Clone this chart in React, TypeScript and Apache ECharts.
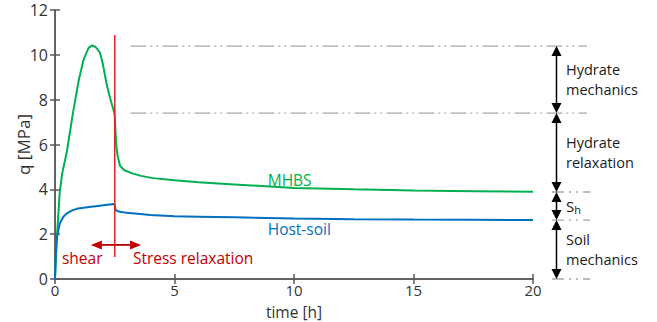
import React, { useEffect, useRef } from "react";
import * as echarts from "echarts";

// ---- data ----
const mhbsTime = [0, 0.04, 0.1, 0.2, 0.3, 0.5, 0.75, 0.85, 1.0, 1.2, 1.4, 1.55, 1.7, 1.88, 2.0, 2.16, 2.3, 2.47, 2.5, 2.53, 2.56, 2.62, 2.72, 2.9, 3.27, 3.6, 4.1, 5.0, 6.0, 7.5, 10, 12.5, 15, 17.5, 20];
const mhbsQ = [0, 1.1, 2.2, 3.9, 4.7, 5.7, 7.4, 8.0, 8.9, 9.8, 10.3, 10.42, 10.35, 10.1, 9.6, 8.7, 8.1, 7.45, 7.3, 6.6, 6.0, 5.5, 5.05, 4.85, 4.7, 4.6, 4.5, 4.4, 4.32, 4.22, 4.06, 4.0, 3.95, 3.92, 3.89];

const soilTime = [0, 0.04, 0.07, 0.15, 0.21, 0.35, 0.5, 0.7, 0.9, 1.2, 1.5, 1.8, 2.1, 2.47, 2.5, 2.53, 2.6, 2.72, 3.0, 3.56, 4.0, 5.0, 6.0, 7.5, 10, 12.5, 15, 17.5, 20];
const soilQ = [0, 1.2, 1.75, 2.25, 2.5, 2.78, 2.93, 3.05, 3.13, 3.18, 3.22, 3.26, 3.3, 3.35, 3.3, 3.1, 3.03, 3.0, 2.95, 2.9, 2.86, 2.8, 2.78, 2.75, 2.7, 2.67, 2.65, 2.64, 2.63];

const relaxLineT = [2.5, 2.5];
const relaxLineQ = [0.98, 10.88];

const xTicks = { min: 0, max: 20, interval: 5 };
const yTicks = { min: 0, max: 12, interval: 2 };
const xAxisName = "time [h]";
const yAxisName = "q [MPa]";

// reference levels (q, MPa)
const peakQ = 10.39;
const relaxQ = 7.4;
const mhbsEndQ = 3.88;
const soilEndQ = 2.63;
const zeroQ = 0;
const refLineStartT = 3.15;

// annotation anchors (data coords)
const shearArrowT = [1.5, 3.6];
const shearArrowQ = 1.52;
const phaseTextQ = 0.94;
const shearTextT = 0.29;
const relaxTextT = 3.26;
const mhbsLabel = { t: 8.9, q: 4.42, text: "MHBS" };
const soilLabel = { t: 8.9, q: 2.23, text: "Host-soil" };

const FONT = "'Open Sans', sans-serif";
const GREEN = "#00b050";
const BLUE = "#0070c0";
const DARKRED = "#c00000";
const AXIS = "#595959";
const GRAY = "#a6a6a6";

export default function App() {
  const ref = useRef<HTMLDivElement>(null);
  useEffect(() => {
    document.body.style.margin = "0";
    const chart = echarts.init(ref.current!, null, { renderer: "svg" });
    const zip = (a: number[], b: number[]) => a.map((v, i) => [v, b[i]]);
    const axisLine = { show: true, lineStyle: { color: AXIS, width: 1.5 } };
    const tick = { inside: true, length: 5, lineStyle: { color: AXIS, width: 1.5 } };
    chart.setOption({
      animation: false,
      grid: { left: 55, right: 124, top: 10, bottom: 43, outerBoundsMode: "none", containLabel: false },
      xAxis: [
        {
          type: "value", ...xTicks, position: "bottom",
          axisLine, splitLine: { show: false }, axisTick: tick,
          axisLabel: { fontFamily: FONT, fontSize: 15, lineHeight: 15, color: "#333", margin: 3 },
        },
        {
          type: "value", ...xTicks, position: "top",
          axisLine, splitLine: { show: false }, axisTick: tick,
          axisLabel: { show: false },
        },
      ],
      yAxis: [
        {
          type: "value", ...yTicks, position: "left",
          axisLine, splitLine: { show: false }, axisTick: tick,
          axisLabel: { fontFamily: FONT, fontSize: 16, lineHeight: 16, color: "#333", margin: 7 },
        },
        {
          type: "value", ...yTicks, position: "right",
          axisLine, splitLine: { show: false }, axisTick: tick,
          axisLabel: { show: false },
        },
      ],
      series: [
        {
          name: "MHBS", type: "line", data: zip(mhbsTime, mhbsQ), showSymbol: false,
          lineStyle: { color: GREEN, width: 2 }, itemStyle: { color: GREEN }, z: 3,
        },
        {
          name: "Host-soil", type: "line", data: zip(soilTime, soilQ), showSymbol: false,
          lineStyle: { color: BLUE, width: 2 }, itemStyle: { color: BLUE }, z: 3,
        },
        {
          name: "relaxation start", type: "line", data: zip(relaxLineT, relaxLineQ), showSymbol: false,
          lineStyle: { color: "#e32222", width: 1.5 }, z: 4,
        },
      ],
    });

    const px = (t: number, q: number) => chart.convertToPixel({ gridIndex: 0 }, [t, q]) as number[];
    const left = px(0, 0)[0];
    const right = px(20, 0)[0];
    const bottom = px(0, 0)[1];
    const top = px(0, 12)[1];
    const y = (q: number) => px(0, q)[1];
    const g: any[] = [];
    const dash = [16, 4, 2, 4, 2, 4];

    // axis names
    g.push({ type: "text", z: 5, style: {
      text: xAxisName, x: (left + right) / 2, y: bottom + 32.5, align: "center", verticalAlign: "middle",
      fontFamily: FONT, fontSize: 15.5, lineHeight: 16, fill: "#333",
    } });
    g.push({ type: "text", z: 5, x: left - 32, y: (top + bottom) / 2, rotation: Math.PI / 2, style: {
      text: yAxisName, x: 0, y: 0, align: "center", verticalAlign: "middle",
      fontFamily: FONT, fontSize: 17, lineHeight: 17, fill: "#333",
    } });

    // long dash-dot reference lines
    [peakQ, relaxQ].forEach((q) => {
      g.push({ type: "line", shape: { x1: px(refLineStartT, q)[0], y1: y(q), x2: right + 54, y2: y(q) },
        style: { stroke: GRAY, lineWidth: 1.3, lineDash: dash }, z: 1 });
    });
    // short right-side reference lines
    [mhbsEndQ, soilEndQ, zeroQ].forEach((q) => {
      g.push({ type: "line", shape: { x1: right + 19, y1: y(q), x2: right + 57, y2: y(q) },
        style: { stroke: GRAY, lineWidth: 1.3, lineDash: [12, 5, 2, 5, 2, 5] }, z: 1 });
    });

    // black double arrows
    const ax = right + 23.5;
    const head = 10, hw = 5;
    const dbl = (qTop: number, qBot: number) => {
      const yt = y(qTop), yb = y(qBot);
      g.push({ type: "line", shape: { x1: ax, y1: yt + head - 1, x2: ax, y2: yb - head + 1 },
        style: { stroke: "#000", lineWidth: 1.5 }, z: 5 });
      g.push({ type: "polygon", shape: { points: [[ax, yt], [ax - hw, yt + head], [ax + hw, yt + head]] },
        style: { fill: "#000" }, z: 5 });
      g.push({ type: "polygon", shape: { points: [[ax, yb], [ax - hw, yb - head], [ax + hw, yb - head]] },
        style: { fill: "#000" }, z: 5 });
    };
    dbl(peakQ, relaxQ);
    dbl(relaxQ, mhbsEndQ);
    dbl(mhbsEndQ, soilEndQ);
    dbl(soilEndQ, zeroQ);

    const tx = right + 33;
    const lineGap = 20;
    const sideText = (lines: string[], qa: number, qb: number) => {
      const mid = (y(qa) + y(qb)) / 2;
      lines.forEach((text, i) => {
        g.push({ type: "text", z: 5, style: {
          text, x: tx, y: mid + (i - (lines.length - 1) / 2) * lineGap,
          fontFamily: FONT, fontSize: 14.5, lineHeight: 16, fill: "#1a1a1a", verticalAlign: "middle", align: "left",
        } });
      });
    };
    sideText(["Hydrate", "mechanics"], peakQ, relaxQ);
    sideText(["Hydrate", "relaxation"], relaxQ, mhbsEndQ);
    sideText(["Soil", "mechanics"], soilEndQ, zeroQ);
    g.push({
      type: "text", z: 5,
      style: {
        x: tx, y: (y(mhbsEndQ) + y(soilEndQ)) / 2, verticalAlign: "middle", align: "left",
        text: "{b|S}{s|h}",
        rich: {
          b: { fontFamily: FONT, fontSize: 15, fill: "#1a1a1a" },
          s: { fontFamily: FONT, fontSize: 11, fill: "#1a1a1a", padding: [7, 0, 0, 0] },
        },
      },
    });

    // red shear / relaxation arrow
    const [xa, ya] = px(shearArrowT[0], shearArrowQ);
    const xb = px(shearArrowT[1], shearArrowQ)[0];
    const rh = 11, rw = 4.5;
    g.push({ type: "line", shape: { x1: xa + rh - 1, y1: ya, x2: xb - rh + 1, y2: ya }, style: { stroke: DARKRED, lineWidth: 1.8 }, z: 5 });
    g.push({ type: "polygon", shape: { points: [[xa, ya], [xa + rh, ya - rw], [xa + rh, ya + rw]] }, style: { fill: DARKRED }, z: 5 });
    g.push({ type: "polygon", shape: { points: [[xb, ya], [xb - rh, ya - rw], [xb - rh, ya + rw]] }, style: { fill: DARKRED }, z: 5 });

    const dataText = (t: number, q: number, text: string, fill: string) => {
      const p = px(t, q);
      g.push({ type: "text", z: 5, style: { text, x: p[0], y: p[1], fill, fontFamily: FONT, fontSize: 15.5, verticalAlign: "middle", align: "left" } });
    };
    dataText(shearTextT, phaseTextQ, "shear", DARKRED);
    dataText(relaxTextT, phaseTextQ, "Stress relaxation", DARKRED);
    dataText(mhbsLabel.t, mhbsLabel.q, mhbsLabel.text, GREEN);
    dataText(soilLabel.t, soilLabel.q, soilLabel.text, BLUE);

    chart.setOption({ graphic: g });
    return () => chart.dispose();
  }, []);
  return <div ref={ref} style={{ width: 657, height: 322 }} />;
}
